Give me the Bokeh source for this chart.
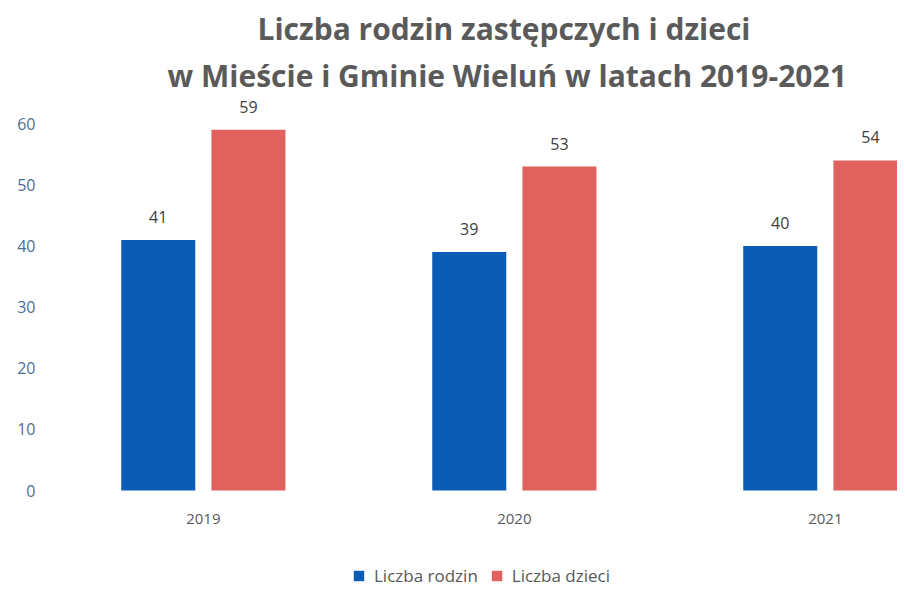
from bokeh.plotting import figure
from bokeh.models import ColumnDataSource, Range1d, Legend, LegendItem, Title, LabelSet, FixedTicker
from bokeh.core.properties import value
from bokeh.embed import file_html
from bokeh.resources import INLINE

years = ["2019", "2020", "2021"]
rodziny = [41, 39, 40]
dzieci = [59, 53, 54]
series_names = ["Liczba rodzin", "Liczba dzieci"]
title_lines = ["Liczba rodzin zastępczych i dzieci",
               "w Mieście i Gminie Wieluń w latach 2019-2021"]
colors = ["#0b5cb5", "#e0615d"]

idx = list(range(len(years)))
off = 0.145
w = 0.238

p = figure(frame_width=854, frame_height=490, output_backend="svg", toolbar_location=None,
           x_range=Range1d(-0.514, 2.232), y_range=Range1d(-16.35, 63.8),
           min_border_left=43, min_border_right=0, min_border_top=100, min_border_bottom=0)

src_b = ColumnDataSource(dict(x=[i - off for i in idx], top=rodziny, lab=[str(v) for v in rodziny]))
src_r = ColumnDataSource(dict(x=[i + off for i in idx], top=dzieci, lab=[str(v) for v in dzieci]))
src_y = ColumnDataSource(dict(x=idx, y=[0] * len(idx), lab=years))

rb = p.vbar(x="x", top="top", width=w, bottom=0, source=src_b, color=colors[0], line_color=None)
rr = p.vbar(x="x", top="top", width=w, bottom=0, source=src_r, color=colors[1], line_color=None)

for s in (src_b, src_r):
    p.add_layout(LabelSet(x="x", y="top", text="lab", source=s, y_offset=17,
                          text_align="center", text_baseline="bottom",
                          text_font=value("Open Sans"), text_font_size="16px",
                          text_color="#404040"))

# category labels under the bars
p.add_layout(LabelSet(x="x", y="y", text="lab", source=src_y, y_offset=-23,
                      text_align="center", text_baseline="top",
                      text_font=value("Open Sans"), text_font_size="15px",
                      text_color="#595959"))

t2 = Title(text=title_lines[1], align="left",
           text_font="Open Sans", text_font_size="30px", text_font_style="bold",
           text_color="#5a5a5a", standoff=9, offset=124)
t1 = Title(text=title_lines[0], align="left",
           text_font="Open Sans", text_font_size="30px", text_font_style="bold",
           text_color="#5a5a5a", standoff=0, offset=214)
p.title = None
p.add_layout(t2, "above")
p.add_layout(t1, "above")

p.xaxis.visible = False
p.yaxis.ticker = FixedTicker(ticks=[0, 10, 20, 30, 40, 50, 60])
ax = p.yaxis[0]
ax.axis_line_color = None
ax.major_tick_line_color = None
ax.minor_tick_line_color = None
ax.major_tick_out = 0
ax.major_tick_in = 0
ax.major_label_text_font = "Open Sans"
ax.major_label_text_font_size = "16px"
ax.major_label_text_color = "#4a6f93"
ax.major_label_standoff = 8

p.xgrid.grid_line_color = None
p.ygrid.grid_line_color = None
p.outline_line_color = None

legend = Legend(items=[LegendItem(label=series_names[0], renderers=[rb]),
                       LegendItem(label=series_names[1], renderers=[rr])],
                orientation="horizontal", location=(309, 3),
                label_text_font="Open Sans", label_text_font_size="17px",
                label_text_color="#595959", glyph_width=13, glyph_height=13,
                spacing=12, label_standoff=9, border_line_color=None,
                background_fill_alpha=0, margin=0, padding=0)
p.add_layout(legend)

open("out.html", "w").write(file_html(p, INLINE))
